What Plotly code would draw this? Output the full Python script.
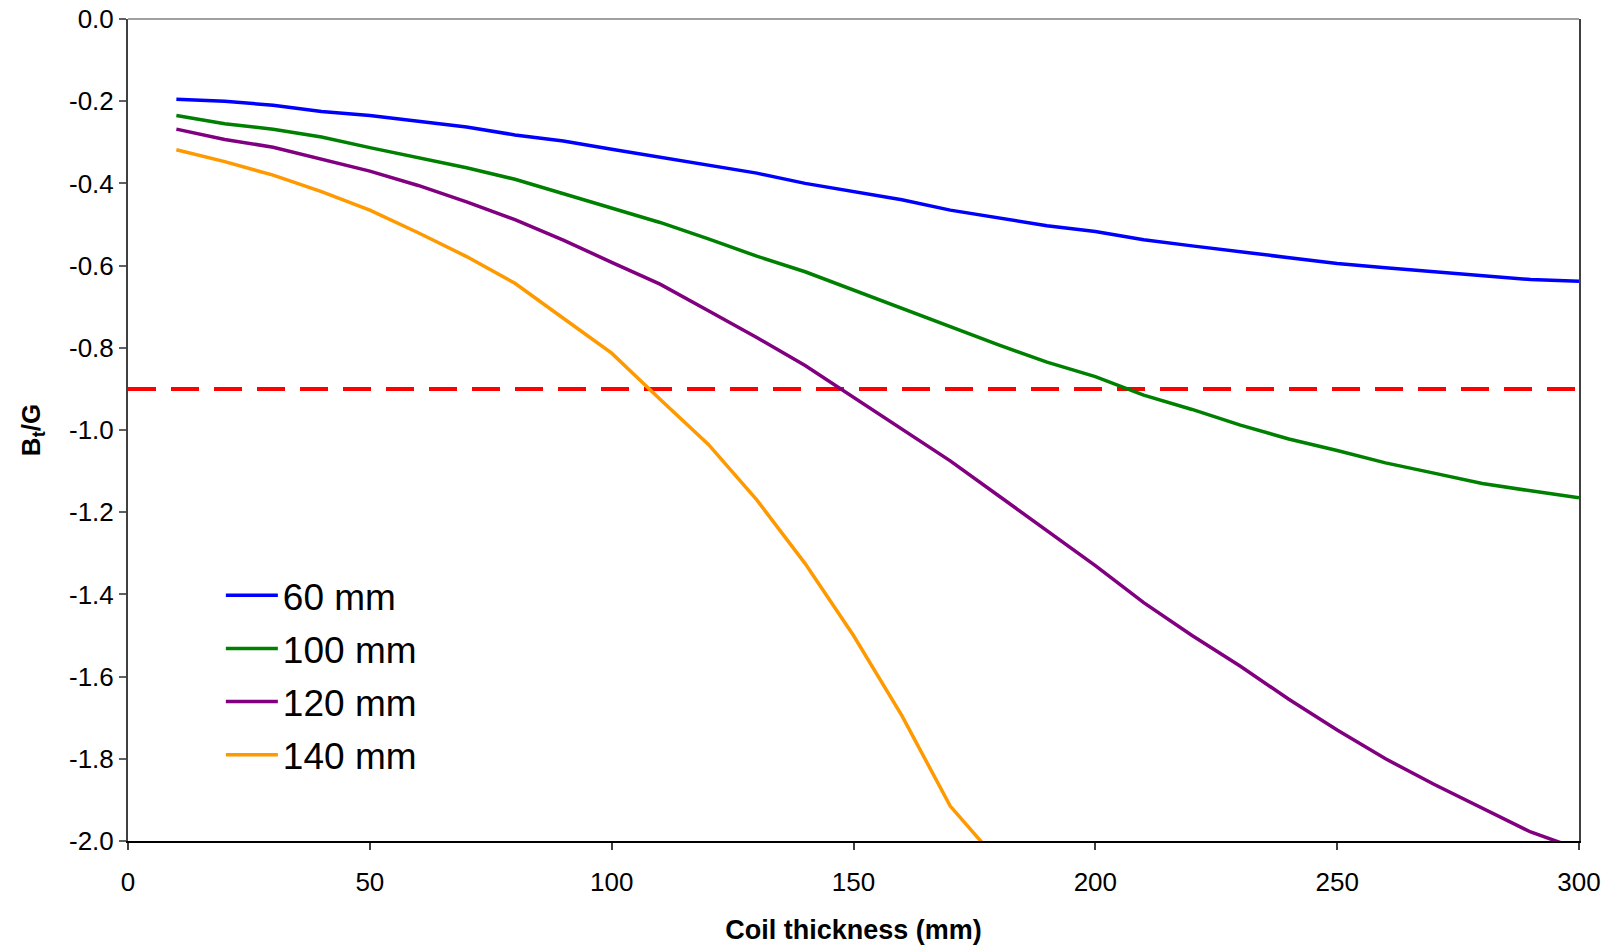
import plotly.graph_objects as go

thickness = [10, 20, 30, 40, 50, 60, 70, 80, 90, 100, 110, 120, 130, 140, 150,
             160, 170, 180, 190, 200, 210, 220, 230, 240, 250, 260, 270, 280, 290, 300]

bt_60 = [-0.195, -0.200, -0.210, -0.225, -0.235, -0.248, -0.263, -0.282, -0.297, -0.317,
         -0.336, -0.355, -0.375, -0.400, -0.420, -0.440, -0.465, -0.483, -0.503, -0.517,
         -0.537, -0.552, -0.566, -0.581, -0.595, -0.605, -0.615, -0.624, -0.634, -0.638]
bt_100 = [-0.235, -0.255, -0.268, -0.287, -0.313, -0.337, -0.362, -0.390, -0.425, -0.460,
          -0.495, -0.535, -0.577, -0.615, -0.660, -0.705, -0.750, -0.793, -0.835, -0.870,
          -0.915, -0.950, -0.988, -1.022, -1.050, -1.080, -1.105, -1.130, -1.148, -1.165]
bt_120 = [-0.268, -0.293, -0.312, -0.342, -0.370, -0.405, -0.445, -0.488, -0.538, -0.592,
          -0.645, -0.710, -0.775, -0.843, -0.920, -0.998, -1.075, -1.160, -1.245, -1.330,
          -1.420, -1.500, -1.575, -1.655, -1.730, -1.800, -1.862, -1.920, -1.978, -2.020]
bt_140 = [-0.318, -0.347, -0.380, -0.420, -0.465, -0.520, -0.578, -0.643, -0.728, -0.813,
          -0.925, -1.035, -1.170, -1.325, -1.500, -1.695, -1.915, -2.050]

series_names = ["60 mm", "100 mm", "120 mm", "140 mm"]
series_colors = ["#0000FF", "#008000", "#800080", "#FF9900"]

limit_x = [0, 300]
limit_y = [-0.9, -0.9]

x_ticks = [0, 50, 100, 150, 200, 250, 300]
x_ticktext = ["0", "50", "100", "150", "200", "250", "300"]
y_ticks = [0.0, -0.2, -0.4, -0.6, -0.8, -1.0, -1.2, -1.4, -1.6, -1.8, -2.0]
y_ticktext = ["0.0", "-0.2", "-0.4", "-0.6", "-0.8", "-1.0", "-1.2", "-1.4", "-1.6", "-1.8", "-2.0"]

fig = go.Figure()

fig.add_trace(go.Scatter(x=limit_x, y=limit_y, mode="lines", showlegend=False,
                         line=dict(color="#FF0000", width=4, dash="28px,15px"),
                         hoverinfo="skip", cliponaxis=False))

all_y = [bt_60, bt_100, bt_120, bt_140]
for name, color, ys in zip(series_names, series_colors, all_y):
    fig.add_trace(go.Scatter(x=thickness[:len(ys)], y=ys, mode="lines", name=name,
                             legendgroup=name,
                             line=dict(color=color, width=3.5)))

font_family = "Liberation Sans, Arial, sans-serif"

fig.update_layout(
    width=1614, height=947,
    margin=dict(l=128, r=35, t=19, b=106),
    paper_bgcolor="white", plot_bgcolor="white",
    font=dict(family=font_family, color="black"),
    showlegend=True,
    legend=dict(x=0.064, y=0.336, xanchor="left", yanchor="top",
                font=dict(size=37, family=font_family, color="black"),
                bgcolor="rgba(0,0,0,0)", tracegroupgap=2, itemwidth=52),
    xaxis=dict(range=[0, 300], tickvals=x_ticks, ticktext=x_ticktext,
               showgrid=False, zeroline=False, automargin=False,
               showline=True, linecolor="black", linewidth=1.5,
               ticks="outside", ticklen=7, tickcolor="#404040", tickwidth=1.5,
               tickfont=dict(size=26), ticklabelstandoff=10,
               title=dict(text="<b>Coil thickness (mm)</b>", font=dict(size=27), standoff=24)),
    yaxis=dict(range=[-2, 0], tickvals=y_ticks, ticktext=y_ticktext,
               showgrid=False, zeroline=False, automargin=False,
               showline=True, linecolor="#404040", linewidth=2, mirror=True,
               ticks="outside", ticklen=7, tickcolor="#606060", tickwidth=1.5,
               tickfont=dict(size=26),
               title=dict(text="<b>B<sub>t</sub>/G</b>", font=dict(size=26), standoff=21)),
    shapes=[dict(type="line", xref="paper", yref="paper", x0=0, x1=1, y0=1, y1=1,
                 line=dict(color="#808080", width=1.5))],
)

fig.write_html("out.html")
